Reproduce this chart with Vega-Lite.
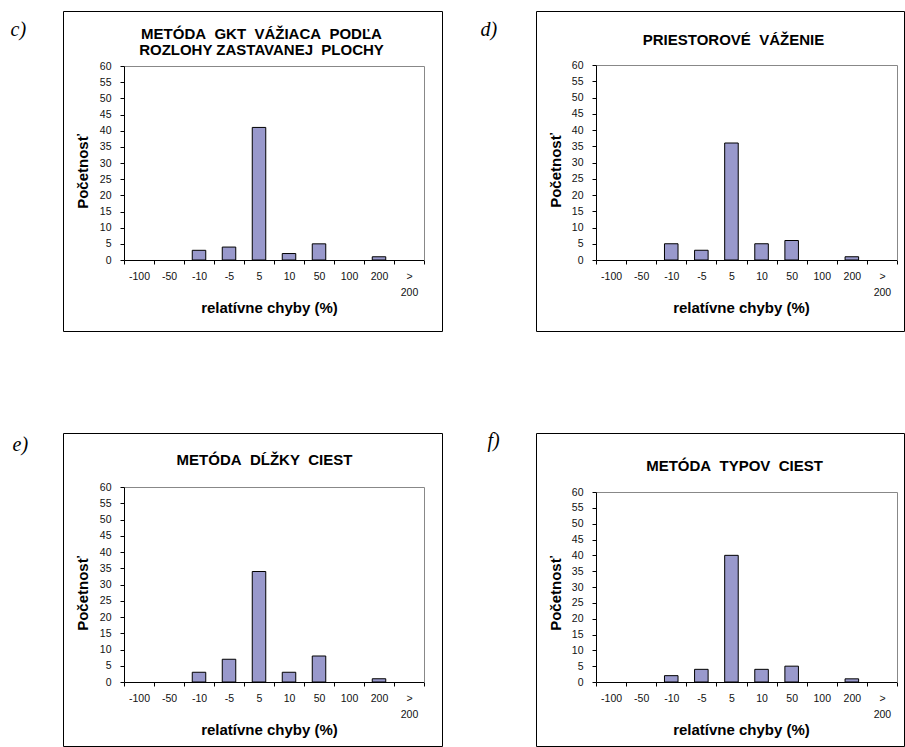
{
  "$schema": "https://vega.github.io/schema/vega-lite/v6.json",
  "background": "white",
  "padding": {"left": 9, "top": 10, "right": 0, "bottom": 0},
  "autosize": {"type": "pad"},
  "data": {"values": [
    {"p": "c", "cat": "-100", "n": 0}, {"p": "c", "cat": "-50", "n": 0}, {"p": "c", "cat": "-10", "n": 3}, {"p": "c", "cat": "-5", "n": 4}, {"p": "c", "cat": "5", "n": 41},
    {"p": "c", "cat": "10", "n": 2}, {"p": "c", "cat": "50", "n": 5}, {"p": "c", "cat": "100", "n": 0}, {"p": "c", "cat": "200", "n": 1}, {"p": "c", "cat": "> 200", "n": 0},
    {"p": "d", "cat": "-100", "n": 0}, {"p": "d", "cat": "-50", "n": 0}, {"p": "d", "cat": "-10", "n": 5}, {"p": "d", "cat": "-5", "n": 3}, {"p": "d", "cat": "5", "n": 36},
    {"p": "d", "cat": "10", "n": 5}, {"p": "d", "cat": "50", "n": 6}, {"p": "d", "cat": "100", "n": 0}, {"p": "d", "cat": "200", "n": 1}, {"p": "d", "cat": "> 200", "n": 0},
    {"p": "e", "cat": "-100", "n": 0}, {"p": "e", "cat": "-50", "n": 0}, {"p": "e", "cat": "-10", "n": 3}, {"p": "e", "cat": "-5", "n": 7}, {"p": "e", "cat": "5", "n": 34},
    {"p": "e", "cat": "10", "n": 3}, {"p": "e", "cat": "50", "n": 8}, {"p": "e", "cat": "100", "n": 0}, {"p": "e", "cat": "200", "n": 1}, {"p": "e", "cat": "> 200", "n": 0},
    {"p": "f", "cat": "-100", "n": 0}, {"p": "f", "cat": "-50", "n": 0}, {"p": "f", "cat": "-10", "n": 2}, {"p": "f", "cat": "-5", "n": 4}, {"p": "f", "cat": "5", "n": 40},
    {"p": "f", "cat": "10", "n": 4}, {"p": "f", "cat": "50", "n": 5}, {"p": "f", "cat": "100", "n": 0}, {"p": "f", "cat": "200", "n": 1}, {"p": "f", "cat": "> 200", "n": 0}
  ]},
  "columns": 2,
  "bounds": "flush",
  "spacing": {"row": 102, "column": 94},
  "concat": [
    {
      "width": 379, "height": 320,
      "transform": [{"filter": "datum.p == 'c'"}],
      "layer": [
        {
          "mark": {"type": "bar", "fill": "#9999CC", "stroke": "#000", "strokeWidth": 1, "width": {"band": 0.45}},
          "encoding": {
            "strokeOpacity": {"condition": {"test": "datum.n == 0", "value": 0}, "value": 1},
            "x": {"field": "cat", "type": "nominal", "sort": null,
              "scale": {"domain": ["-100", "-50", "-10", "-5", "5", "10", "50", "100", "200", "> 200"], "range": [61, 361], "paddingInner": 0, "paddingOuter": 0},
              "axis": {"orient": "bottom", "offset": -71, "tickBand": "extent", "tickSize": 4, "labelPadding": 7, "labelAngle": 0, "labelOverlap": false, "labelBaseline": "top", "labelLineHeight": 16.5,
                "labelExpr": "datum.value == '> 200' ? ['>', '200'] : datum.label",
                "title": "relatívne chyby (%)", "titleX": 206, "titleY": 52, "titleBaseline": "alphabetic", "titleAlign": "center"}},
            "y": {"field": "n", "type": "quantitative",
              "scale": {"domain": [0, 60], "range": [249, 55], "nice": false},
              "axis": {"orient": "left", "offset": -61, "values": [0, 5, 10, 15, 20, 25, 30, 35, 40, 45, 50, 55, 60], "tickSize": 4, "labelPadding": 9, "labelFlush": false, "labelOverlap": false,
                "title": "Početnosť", "titleX": -37, "titleY": 160, "titleAngle": 270, "titleBaseline": "alphabetic", "titleAlign": "center"}}
          }
        },
        {
          "mark": {"type": "bar", "opacity": 0},
          "encoding": {
            "x": {"field": "cat", "type": "nominal", "sort": null,
              "scale": {"domain": ["-100", "-50", "-10", "-5", "5", "10", "50", "100", "200", "> 200"], "range": [61, 361], "paddingInner": 0, "paddingOuter": 0},
              "axis": {"orient": "top", "offset": -55, "ticks": false, "labels": false, "domainColor": "#888888",
                "title": ["METÓDA\u00a0 GKT\u00a0 VÁŽIACA\u00a0 PODĽA", "ROZLOHY ZASTAVANEJ\u00a0 PLOCHY"], "titleX": 198, "titleY": -27.7, "titleLineHeight": 16.7, "titleBaseline": "alphabetic", "titleAlign": "center"}},
            "y": {"field": "n", "type": "quantitative",
              "scale": {"domain": [0, 60], "range": [249, 55], "nice": false},
              "axis": {"orient": "right", "offset": -18, "ticks": false, "labels": false, "domainColor": "#888888",
                "title": "c)", "titleX": -414, "titleY": 24, "titleAngle": 0, "titleAlign": "left", "titleBaseline": "alphabetic", "titleFont": "Liberation Serif", "titleFontStyle": "italic", "titleFontWeight": "normal", "titleFontSize": 20}}
          }
        }
      ],
      "resolve": {"axis": {"x": "independent", "y": "independent"}}
    },
    {
      "width": 368, "height": 320,
      "transform": [{"filter": "datum.p == 'd'"}],
      "layer": [
        {
          "mark": {"type": "bar", "fill": "#9999CC", "stroke": "#000", "strokeWidth": 1, "width": {"band": 0.45}},
          "encoding": {
            "strokeOpacity": {"condition": {"test": "datum.n == 0", "value": 0}, "value": 1},
            "x": {"field": "cat", "type": "nominal", "sort": null,
              "scale": {"domain": ["-100", "-50", "-10", "-5", "5", "10", "50", "100", "200", "> 200"], "range": [60, 361], "paddingInner": 0, "paddingOuter": 0},
              "axis": {"orient": "bottom", "offset": -71, "tickBand": "extent", "tickSize": 4, "labelPadding": 7, "labelAngle": 0, "labelOverlap": false, "labelBaseline": "top", "labelLineHeight": 16.5,
                "labelExpr": "datum.value == '> 200' ? ['>', '200'] : datum.label",
                "title": "relatívne chyby (%)", "titleX": 205, "titleY": 52, "titleBaseline": "alphabetic", "titleAlign": "center"}},
            "y": {"field": "n", "type": "quantitative",
              "scale": {"domain": [0, 60], "range": [249, 54], "nice": false},
              "axis": {"orient": "left", "offset": -60, "values": [0, 5, 10, 15, 20, 25, 30, 35, 40, 45, 50, 55, 60], "tickSize": 4, "labelPadding": 9, "labelFlush": false, "labelOverlap": false,
                "title": "Početnosť", "titleX": -36, "titleY": 159, "titleAngle": 270, "titleBaseline": "alphabetic", "titleAlign": "center"}}
          }
        },
        {
          "mark": {"type": "bar", "opacity": 0},
          "encoding": {
            "x": {"field": "cat", "type": "nominal", "sort": null,
              "scale": {"domain": ["-100", "-50", "-10", "-5", "5", "10", "50", "100", "200", "> 200"], "range": [60, 361], "paddingInner": 0, "paddingOuter": 0},
              "axis": {"orient": "top", "offset": -54, "ticks": false, "labels": false, "domainColor": "#888888",
                "title": "PRIESTOROVÉ\u00a0 VÁŽENIE", "titleX": 197, "titleY": -21, "titleBaseline": "alphabetic", "titleAlign": "center"}},
            "y": {"field": "n", "type": "quantitative",
              "scale": {"domain": [0, 60], "range": [249, 54], "nice": false},
              "axis": {"orient": "right", "offset": -7, "ticks": false, "labels": false, "domainColor": "#888888",
                "title": "d)", "titleX": -417, "titleY": 24, "titleAngle": 0, "titleAlign": "left", "titleBaseline": "alphabetic", "titleFont": "Liberation Serif", "titleFontStyle": "italic", "titleFontWeight": "normal", "titleFontSize": 20}}
          }
        }
      ],
      "resolve": {"axis": {"x": "independent", "y": "independent"}}
    },
    {
      "width": 379, "height": 313,
      "transform": [{"filter": "datum.p == 'e'"}],
      "layer": [
        {
          "mark": {"type": "bar", "fill": "#9999CC", "stroke": "#000", "strokeWidth": 1, "width": {"band": 0.45}},
          "encoding": {
            "strokeOpacity": {"condition": {"test": "datum.n == 0", "value": 0}, "value": 1},
            "x": {"field": "cat", "type": "nominal", "sort": null,
              "scale": {"domain": ["-100", "-50", "-10", "-5", "5", "10", "50", "100", "200", "> 200"], "range": [61, 361], "paddingInner": 0, "paddingOuter": 0},
              "axis": {"orient": "bottom", "offset": -64, "tickBand": "extent", "tickSize": 4, "labelPadding": 7, "labelAngle": 0, "labelOverlap": false, "labelBaseline": "top", "labelLineHeight": 16.5,
                "labelExpr": "datum.value == '> 200' ? ['>', '200'] : datum.label",
                "title": "relatívne chyby (%)", "titleX": 206, "titleY": 52, "titleBaseline": "alphabetic", "titleAlign": "center"}},
            "y": {"field": "n", "type": "quantitative",
              "scale": {"domain": [0, 60], "range": [249, 54], "nice": false},
              "axis": {"orient": "left", "offset": -61, "values": [0, 5, 10, 15, 20, 25, 30, 35, 40, 45, 50, 55, 60], "tickSize": 4, "labelPadding": 9, "labelFlush": false, "labelOverlap": false,
                "title": "Početnosť", "titleX": -37, "titleY": 160, "titleAngle": 270, "titleBaseline": "alphabetic", "titleAlign": "center"}}
          }
        },
        {
          "mark": {"type": "bar", "opacity": 0},
          "encoding": {
            "x": {"field": "cat", "type": "nominal", "sort": null,
              "scale": {"domain": ["-100", "-50", "-10", "-5", "5", "10", "50", "100", "200", "> 200"], "range": [61, 361], "paddingInner": 0, "paddingOuter": 0},
              "axis": {"orient": "top", "offset": -54, "ticks": false, "labels": false, "domainColor": "#888888",
                "title": "METÓDA\u00a0 DĹŽKY\u00a0 CIEST", "titleX": 201, "titleY": -22.7, "titleBaseline": "alphabetic", "titleAlign": "center"}},
            "y": {"field": "n", "type": "quantitative",
              "scale": {"domain": [0, 60], "range": [249, 54], "nice": false},
              "axis": {"orient": "right", "offset": -18, "ticks": false, "labels": false, "domainColor": "#888888",
                "title": "e)", "titleX": -412, "titleY": 17, "titleAngle": 0, "titleAlign": "left", "titleBaseline": "alphabetic", "titleFont": "Liberation Serif", "titleFontStyle": "italic", "titleFontWeight": "normal", "titleFontSize": 20}}
          }
        }
      ],
      "resolve": {"axis": {"x": "independent", "y": "independent"}}
    },
    {
      "width": 368, "height": 313,
      "transform": [{"filter": "datum.p == 'f'"}],
      "layer": [
        {
          "mark": {"type": "bar", "fill": "#9999CC", "stroke": "#000", "strokeWidth": 1, "width": {"band": 0.45}},
          "encoding": {
            "strokeOpacity": {"condition": {"test": "datum.n == 0", "value": 0}, "value": 1},
            "x": {"field": "cat", "type": "nominal", "sort": null,
              "scale": {"domain": ["-100", "-50", "-10", "-5", "5", "10", "50", "100", "200", "> 200"], "range": [60, 361], "paddingInner": 0, "paddingOuter": 0},
              "axis": {"orient": "bottom", "offset": -64, "tickBand": "extent", "tickSize": 4, "labelPadding": 7, "labelAngle": 0, "labelOverlap": false, "labelBaseline": "top", "labelLineHeight": 16.5,
                "labelExpr": "datum.value == '> 200' ? ['>', '200'] : datum.label",
                "title": "relatívne chyby (%)", "titleX": 205, "titleY": 52, "titleBaseline": "alphabetic", "titleAlign": "center"}},
            "y": {"field": "n", "type": "quantitative",
              "scale": {"domain": [0, 60], "range": [249, 59], "nice": false},
              "axis": {"orient": "left", "offset": -60, "values": [0, 5, 10, 15, 20, 25, 30, 35, 40, 45, 50, 55, 60], "tickSize": 4, "labelPadding": 9, "labelFlush": false, "labelOverlap": false,
                "title": "Početnosť", "titleX": -36, "titleY": 160, "titleAngle": 270, "titleBaseline": "alphabetic", "titleAlign": "center"}}
          }
        },
        {
          "mark": {"type": "bar", "opacity": 0},
          "encoding": {
            "x": {"field": "cat", "type": "nominal", "sort": null,
              "scale": {"domain": ["-100", "-50", "-10", "-5", "5", "10", "50", "100", "200", "> 200"], "range": [60, 361], "paddingInner": 0, "paddingOuter": 0},
              "axis": {"orient": "top", "offset": -59, "ticks": false, "labels": false, "domainColor": "#888888",
                "title": "METÓDA\u00a0 TYPOV\u00a0 CIEST", "titleX": 198, "titleY": -21.7, "titleBaseline": "alphabetic", "titleAlign": "center"}},
            "y": {"field": "n", "type": "quantitative",
              "scale": {"domain": [0, 60], "range": [249, 59], "nice": false},
              "axis": {"orient": "right", "offset": -7, "ticks": false, "labels": false, "domainColor": "#888888",
                "title": "f)", "titleX": -410, "titleY": 13, "titleAngle": 0, "titleAlign": "left", "titleBaseline": "alphabetic", "titleFont": "Liberation Serif", "titleFontStyle": "italic", "titleFontWeight": "normal", "titleFontSize": 20}}
          }
        }
      ],
      "resolve": {"axis": {"x": "independent", "y": "independent"}}
    }
  ],
  "config": {
    "view": {"stroke": "#000000", "strokeWidth": 1},
    "axis": {
      "grid": false,
      "domainColor": "#000000",
      "domainWidth": 1,
      "tickColor": "#000000",
      "labelFont": "Liberation Sans",
      "labelFontSize": 10.5,
      "labelColor": "#111111",
      "titleFont": "Liberation Sans",
      "titleFontSize": 15,
      "titleFontWeight": "bold",
      "titleColor": "#000000"
    }
  }
}
